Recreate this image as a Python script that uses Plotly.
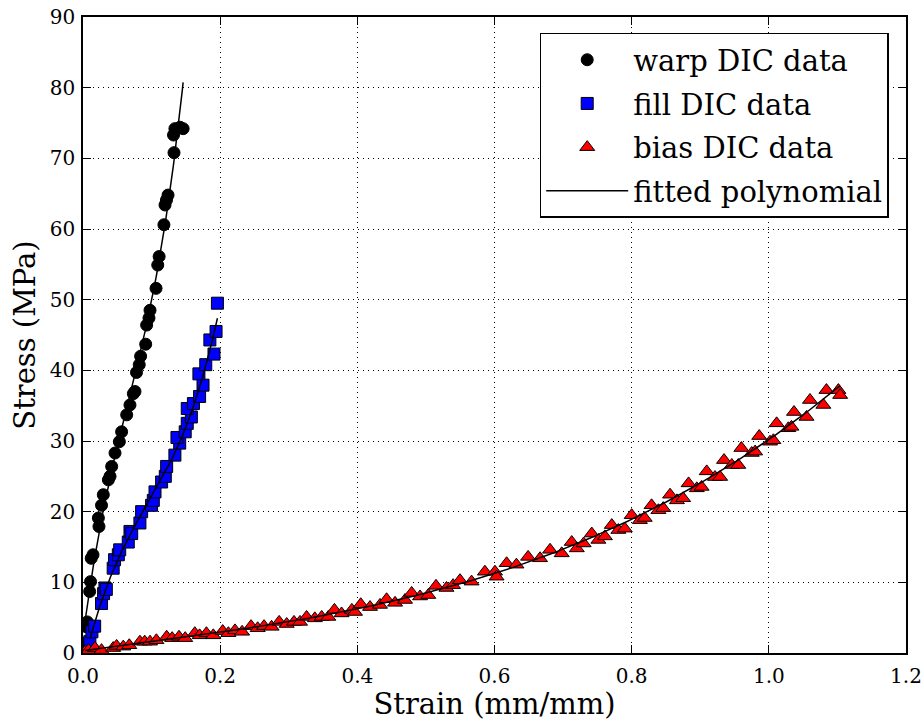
import numpy as np
import plotly.graph_objects as go

# Warp direction DIC measurements (strain in mm/mm, stress in MPa)
warp_strain = [0.003, 0.005, 0.0063, 0.0097, 0.011, 0.012, 0.0146, 0.0224, 0.0233, 0.027,
               0.0296, 0.037, 0.0394, 0.0418, 0.0467, 0.053, 0.0563, 0.0637, 0.0685, 0.0734,
               0.0758, 0.078, 0.082, 0.084, 0.0914, 0.0928, 0.0962, 0.0977, 0.1065, 0.109,
               0.111, 0.118, 0.1196, 0.1217, 0.124, 0.1327, 0.132, 0.134, 0.1414, 0.146]
warp_stress = [1.4, 3.7, 4.4, 8.7, 10.1, 13.4, 13.9, 19.1, 17.9, 20.9,
               22.4, 24.5, 25.0, 26.4, 28.3, 29.9, 31.3, 33.7, 35.1, 36.7,
               37.0, 39.7, 40.8, 42.0, 43.7, 46.4, 47.4, 48.5, 51.6, 54.9,
               56.1, 60.6, 63.4, 64.1, 64.8, 70.8, 73.3, 74.2, 74.4, 74.2]

# Fill direction DIC measurements
fill_strain = [0.010, 0.013, 0.017, 0.027, 0.030, 0.032, 0.034, 0.044, 0.046, 0.0515,
               0.0535, 0.066, 0.0685, 0.071, 0.083, 0.0855, 0.100, 0.1025, 0.105, 0.1146,
               0.120, 0.122, 0.134, 0.141, 0.137, 0.149, 0.152, 0.158, 0.152, 0.161,
               0.170, 0.175, 0.169, 0.179, 0.191, 0.185, 0.194, 0.196]
fill_stress = [1.6, 3.0, 3.8, 7.0, 8.4, 9.2, 9.0, 12.0, 13.2, 13.9,
               14.6, 15.7, 17.2, 16.9, 18.4, 20.0, 20.9, 21.6, 22.8, 24.2,
               25.0, 26.4, 28.0, 29.7, 30.5, 31.3, 32.5, 33.4, 34.6, 35.3,
               36.3, 37.9, 39.5, 40.8, 42.3, 44.3, 45.5, 49.5]

# Bias direction DIC measurements
bias_strain = [0.003, 0.008, 0.0175, 0.027, 0.044, 0.049, 0.0587, 0.0675, 0.083, 0.09,
               0.0977, 0.107, 0.122, 0.13, 0.14, 0.149, 0.163, 0.17, 0.18, 0.19,
               0.2037, 0.212, 0.2216, 0.232, 0.245, 0.2547, 0.264, 0.275, 0.286, 0.297,
               0.3077, 0.3164, 0.326, 0.338, 0.348, 0.3577, 0.3666, 0.377, 0.392, 0.3966,
               0.405, 0.4185, 0.433, 0.4427, 0.455, 0.4695, 0.4792, 0.4914, 0.5035, 0.5147,
               0.53, 0.5396, 0.5497, 0.5666, 0.586, 0.6007, 0.603, 0.6177, 0.632, 0.649,
               0.6664, 0.681, 0.698, 0.7126, 0.72, 0.73, 0.7418, 0.7515, 0.761, 0.771,
               0.7806, 0.79, 0.80, 0.812, 0.819, 0.829, 0.839, 0.846, 0.856, 0.866,
               0.875, 0.883, 0.895, 0.902, 0.9094, 0.9215, 0.929, 0.9347, 0.946, 0.9555,
               0.96, 0.975, 0.98, 0.986, 1.0017, 1.0066, 1.0114, 1.0284, 1.033, 1.0367,
               1.055, 1.06, 1.0795, 1.084, 1.1014, 1.104]
bias_stress = [0.2, 0.4, 0.7, 0.4, 0.7, 1.0, 0.9, 1.1, 1.6, 1.6,
               1.6, 1.8, 2.3, 2.1, 2.3, 2.1, 2.8, 2.5, 2.8, 2.5,
               3.1, 2.8, 3.2, 3.0, 3.8, 3.5, 3.8, 3.7, 4.4, 4.1,
               4.4, 4.4, 5.1, 4.9, 5.1, 5.1, 6.1, 5.6, 6.1, 5.8,
               6.9, 6.5, 6.8, 7.6, 7.1, 7.5, 8.5, 8.0, 8.2, 9.5,
               9.2, 9.6, 10.3, 10.1, 11.5, 11.5, 10.8, 12.7, 12.5, 13.6,
               13.4, 14.6, 14.1, 15.7, 14.8, 15.5, 16.9, 16.0, 16.5, 18.1,
               17.4, 17.6, 19.5, 18.8, 19.1, 20.9, 20.2, 20.5, 22.4, 21.6,
               21.9, 24.0, 23.3, 23.5, 25.7, 24.9, 24.9, 27.3, 26.6, 26.6,
               29.0, 28.3, 28.5, 30.7, 29.9, 30.1, 32.5, 31.8, 32.0, 34.1,
               33.4, 35.8, 35.1, 37.2, 37.2, 36.5]

x_ticks = [0.0, 0.2, 0.4, 0.6, 0.8, 1.0, 1.2]
y_ticks = [0, 10, 20, 30, 40, 50, 60, 70, 80, 90]

SERIF = "DejaVu Serif"
POLY_DEGREE = 3


def fitted_curve(x, y, deg=POLY_DEGREE, n=200):
    """Least-squares polynomial through the measurements, sampled over their strain range."""
    x = np.asarray(x, dtype=float)
    y = np.asarray(y, dtype=float)
    coeffs = np.polyfit(x, y, deg)
    xs = np.linspace(x.min(), x.max(), n)
    return xs, np.polyval(coeffs, xs)


fig = go.Figure()

series = [
    ("warp DIC data", warp_strain, warp_stress, "circle", 12, "black"),
    ("fill DIC data", fill_strain, fill_stress, "square", 12, "#0000ff"),
    ("bias DIC data", bias_strain, bias_stress, "triangle-up", 13, "#ff0000"),
]

for i, (name, xs, ys, symbol, size, color) in enumerate(series):
    fig.add_trace(go.Scatter(
        x=xs, y=ys, mode="markers", name=name, legendgroup=f"g{i}",
        marker=dict(symbol=symbol, size=size, color=color,
                    line=dict(color="black", width=1)),
    ))

for i, (name, xs, ys, *_rest) in enumerate(series):
    fx, fy = fitted_curve(xs, ys)
    fig.add_trace(go.Scatter(
        x=fx, y=fy, mode="lines", name="fitted polynomial",
        legendgroup="fit", showlegend=(i == 0),
        line=dict(color="black", width=1.5),
    ))

axis_common = dict(
    showline=True, linecolor="black", linewidth=1.5, mirror="allticks",
    ticks="inside", ticklen=8, tickwidth=1, tickcolor="black",
    showgrid=True, gridcolor="black", gridwidth=1, griddash="1px,4px",
    zeroline=False, automargin=False,
    tickfont=dict(family=SERIF, size=20, color="black"),
)

fig.update_xaxes(
    range=[0, 1.2], tickvals=x_ticks, ticktext=[f"{v:.1f}" for v in x_ticks],
    ticklabelstandoff=4,
    title=dict(text="Strain (mm/mm)", font=dict(family=SERIF, size=29, color="black"),
               standoff=6),
    **axis_common,
)
fig.update_yaxes(
    range=[0, 90], tickvals=y_ticks, ticktext=[str(v) for v in y_ticks],
    ticklabelstandoff=2,
    title=dict(text="Stress (MPa)", font=dict(family=SERIF, size=29, color="black"),
               standoff=6),
    **axis_common,
)

fig.update_layout(
    width=924, height=721,
    margin=dict(l=83, r=18, t=17, b=68),
    paper_bgcolor="white", plot_bgcolor="white",
    font=dict(family=SERIF, color="black"),
    legend=dict(
        x=0.979, xanchor="right", y=0.975, yanchor="top",
        bgcolor="white", bordercolor="black", borderwidth=1.5,
        font=dict(family=SERIF, size=29, color="black"),
        itemwidth=82, tracegroupgap=3, traceorder="grouped",
    ),
)

fig.write_html("out.html")
